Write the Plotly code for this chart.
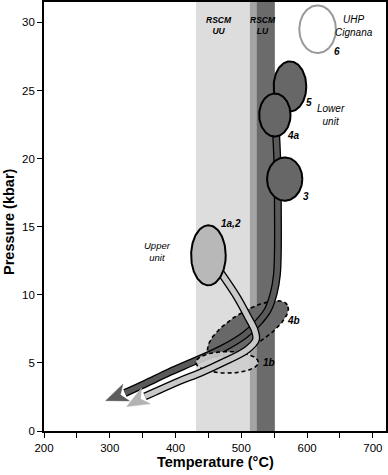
import numpy as np
import plotly.graph_objects as go

# ---------------- data ----------------
T_RANGE = [200, 720]
P_RANGE = [0, 31.5]
x_tick_vals = [200, 300, 400, 500, 600, 700]
y_tick_vals = [0, 5, 10, 15, 20, 25, 30]

# RSCM temperature bands (°C): UU, overlap, LU
band_T0 = [431, 513, 523]
band_T1 = [513, 523, 551]
band_colors = ["#dddddd", "#a4a4a4", "#6b6b6b"]

# P-T estimate ellipses: centre T, centre P, half-width T, half-height P
ell_labels = ["5", "4a", "3", "1a,2", "6"]
ell_T = [574, 551, 566, 450, 616]
ell_P = [25.3, 23.2, 18.5, 12.9, 29.5]
ell_dT = [24.8, 23.8, 26.8, 26.3, 27.8]
ell_dP = [1.84, 1.58, 1.59, 2.2, 1.75]
ell_fill = ["#676767", "#676767", "#676767", "#b8b8b8", "rgba(0,0,0,0)"]
ell_line = ["black", "black", "black", "black", "#9a9a9a"]

# 1b (dashed) ellipse
e1b_T, e1b_P, e1b_dT, e1b_dP = 478.4, 5.04, 47.4, 0.79
# 4b (dashed, tilted) ellipse: centre, end of major axis, minor/major ratio
e4b_T, e4b_P = 510, 7.5
e4b_endT, e4b_endP = 570, 9.26
e4b_ratio = 0.37

# P-T paths (last point = arrow tip)
lower_T = [552.6, 554.9, 555.6, 555.6, 554.1, 549.5, 540.4, 525.2, 505.5, 470.5, 426.4, 391.5, 353.5, 323.1, 293.8]
lower_P = [22.13, 19.56, 16.25, 13.31, 11.47, 10.15, 8.90, 7.94, 7.06, 6.03, 5.07, 4.34, 3.46, 2.79, 2.23]
upper_T = [461.4, 493.3, 510.0, 520.7, 522.2, 508.5, 470.5, 437.1, 406.7, 368.7, 353.5, 325.7]
upper_P = [12.13, 9.85, 8.38, 7.35, 6.69, 5.96, 5.00, 4.26, 3.68, 2.87, 2.54, 1.79]

# text labels
label_texts = ["<b><i>RSCM<br>UU</i></b>", "<b><i>RSCM<br>LU</i></b>", "<i>UHP<br>Cignana</i>",
               "<b><i>6</i></b>", "<b><i>5</i></b>", "<i>Lower<br>unit</i>", "<b><i>4a</i></b>",
               "<b><i>3</i></b>", "<b><i>1a,2</i></b>", "<i>Upper<br>unit</i>",
               "<b><i>4b</i></b>", "<b><i>1b</i></b>"]
label_T = [466, 533, 671, 645, 603, 636, 579, 598, 485, 373, 580, 542]
label_P = [29.76, 29.76, 29.74, 27.85, 24.1, 23.2, 21.7, 17.2, 15.2, 13.2, 8.1, 5.0]
label_size = [8.5, 8.5, 10, 10, 10, 10, 10, 10, 10, 9.5, 10, 10]

# ---------------- geometry helpers ----------------
W, H = 388, 475
ML, MR, MT, MB = 44, 2, 2, 44
PW, PH = W - ML - MR, H - MT - MB
sx = PW / (T_RANGE[1] - T_RANGE[0])
sy = PH / (P_RANGE[1] - P_RANGE[0])


def to_px(T, P):
    return (np.asarray(T, float) - T_RANGE[0]) * sx, (np.asarray(P, float) - P_RANGE[0]) * sy


def to_data(x, y):
    return np.asarray(x) / sx + T_RANGE[0], np.asarray(y) / sy + P_RANGE[0]


tt = np.linspace(0, 2 * np.pi, 120)


def ellipse(cT, cP, dT, dP):
    return cT + dT * np.cos(tt), cP + dP * np.sin(tt)


def tilted_ellipse(cT, cP, eT, eP, ratio):
    cx, cy = to_px(cT, cP)
    ex, ey = to_px(eT, eP)
    a = np.hypot(ex - cx, ey - cy)
    ux, uy = (ex - cx) / a, (ey - cy) / a
    vx, vy = -uy, ux
    b = a * ratio
    x = cx + a * np.cos(tt) * ux + b * np.sin(tt) * vx
    y = cy + a * np.cos(tt) * uy + b * np.sin(tt) * vy
    return to_data(x, y)


def arrowhead(T, P, L=22, Wd=9, notch=0.72):
    x0, y0 = to_px(T[-2], P[-2])
    x1, y1 = to_px(T[-1], P[-1])
    d = np.hypot(x1 - x0, y1 - y0)
    ux, uy = (x1 - x0) / d, (y1 - y0) / d
    vx, vy = -uy, ux
    xs = [x1, x1 - L * ux + Wd * vx, x1 - notch * L * ux, x1 - L * ux - Wd * vx, x1]
    ys = [y1, y1 - L * uy + Wd * vy, y1 - notch * L * uy, y1 - L * uy - Wd * vy, y1]
    return to_data(xs, ys)


fig = go.Figure()

# 4b ellipse
x4b, y4b = tilted_ellipse(e4b_T, e4b_P, e4b_endT, e4b_endP, e4b_ratio)
fig.add_trace(go.Scatter(x=x4b, y=y4b, mode="lines", fill="toself", fillcolor="#686868",
                         line=dict(color="black", width=1.6, dash="4px,3px")))

# lower unit path
fig.add_trace(go.Scatter(x=lower_T[:-1], y=lower_P[:-1], mode="lines",
                         line=dict(color="black", width=8, shape="spline")))
fig.add_trace(go.Scatter(x=lower_T[:-1], y=lower_P[:-1], mode="lines",
                         line=dict(color="#5a5a5a", width=5.4, shape="spline")))
ax, ay = arrowhead(lower_T, lower_P)
fig.add_trace(go.Scatter(x=ax, y=ay, mode="lines", fill="toself", fillcolor="#5c5c5c",
                         line=dict(color="#5c5c5c", width=0.5)))

# 1b ellipse
x1b, y1b = ellipse(e1b_T, e1b_P, e1b_dT, e1b_dP)
fig.add_trace(go.Scatter(x=x1b, y=y1b, mode="lines", fill="toself", fillcolor="rgba(205,205,205,0.92)",
                         line=dict(color="black", width=1.6, dash="4px,3px")))

# upper unit path
fig.add_trace(go.Scatter(x=upper_T[:-1], y=upper_P[:-1], mode="lines",
                         line=dict(color="black", width=8, shape="spline")))
fig.add_trace(go.Scatter(x=upper_T[:-1], y=upper_P[:-1], mode="lines",
                         line=dict(color="#c9c9c9", width=5.4, shape="spline")))
ax, ay = arrowhead(upper_T, upper_P)
fig.add_trace(go.Scatter(x=ax, y=ay, mode="lines", fill="toself", fillcolor="#b3b3b3",
                         line=dict(color="#b3b3b3", width=0.5)))

# P-T ellipses
for i in range(len(ell_labels)):
    ex, ey = ellipse(ell_T[i], ell_P[i], ell_dT[i], ell_dP[i])
    fig.add_trace(go.Scatter(x=ex, y=ey, mode="lines",
                             fill="toself" if ell_labels[i] != "6" else None,
                             fillcolor=ell_fill[i],
                             line=dict(color=ell_line[i], width=2)))

# bands
shapes = []
for t0, t1, c in zip(band_T0, band_T1, band_colors):
    shapes.append(dict(type="rect", xref="x", yref="y", x0=t0, x1=t1, y0=P_RANGE[0], y1=P_RANGE[1],
                       fillcolor=c, line=dict(width=0), layer="below"))

annotations = []
for txt, t, p, s in zip(label_texts, label_T, label_P, label_size):
    annotations.append(dict(x=t, y=p, xref="x", yref="y", text=txt, showarrow=False,
                            font=dict(size=s, color="black"), xanchor="center", yanchor="middle"))
annotations.append(dict(x=0.5, y=(MT + PH - 462) / PH, xref="paper", yref="paper",
                        text="<b>Temperature (°C)</b>", showarrow=False,
                        font=dict(size=14.5, color="black"), xanchor="center", yanchor="middle"))
annotations.append(dict(x=(9 - ML) / PW, y=(MT + PH - 222) / PH, xref="paper", yref="paper",
                        text="<b>Pressure (kbar)</b>", showarrow=False, textangle=-90,
                        font=dict(size=14.5, color="black"), xanchor="center", yanchor="middle"))

fig.update_layout(
    width=W, height=H,
    margin=dict(l=ML, r=MR, t=MT, b=MB, autoexpand=False),
    paper_bgcolor="white", plot_bgcolor="white",
    showlegend=False, hovermode=False,
    font=dict(family="Liberation Sans, Arial, Helvetica, sans-serif", size=11.5, color="black"),
    shapes=shapes, annotations=annotations,
    xaxis=dict(range=T_RANGE, tickvals=x_tick_vals, ticks="outside", ticklen=5, tickwidth=1.2,
               tickcolor="black", showgrid=False, zeroline=False, showline=True, linecolor="black",
               linewidth=1.6, mirror=True, automargin=False,
               minor=dict(dtick=50, tick0=200, ticks="outside", ticklen=5, tickwidth=1.2,
                          tickcolor="black", showgrid=False)),
    yaxis=dict(range=P_RANGE, tickvals=y_tick_vals, ticks="outside", ticklen=5, tickwidth=1.2,
               tickcolor="black", showgrid=False, zeroline=False, showline=True, linecolor="black",
               linewidth=1.6, mirror=True, automargin=False),
)

fig.write_html("out.html", config={"displayModeBar": False},
               post_script="document.body.style.margin='0';document.body.style.overflow='hidden';")
